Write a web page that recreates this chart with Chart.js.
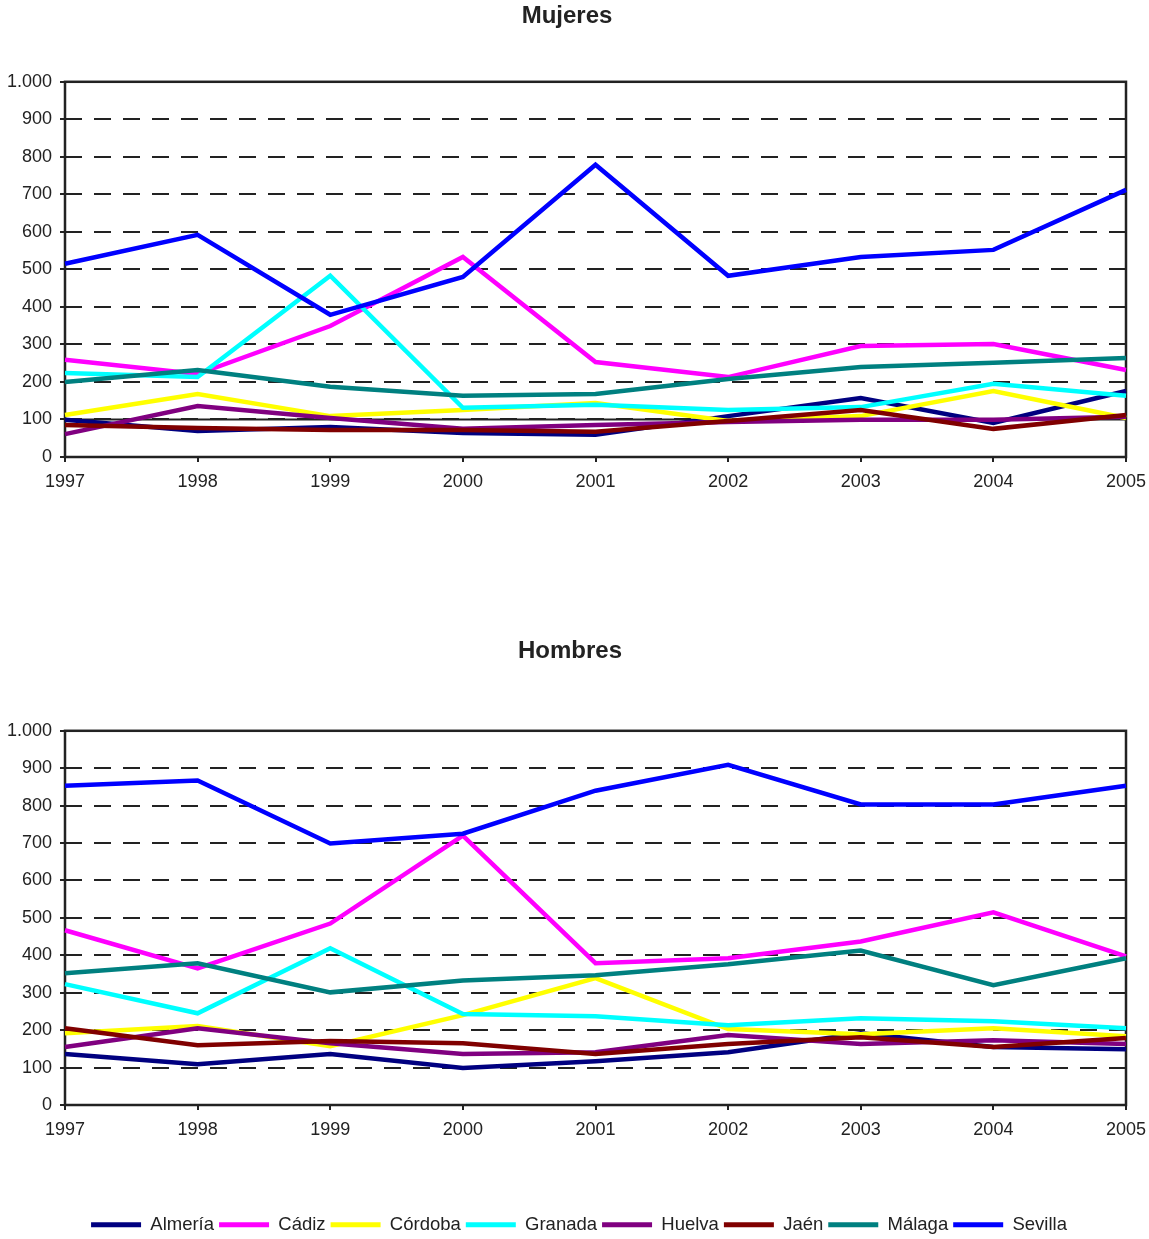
<!DOCTYPE html>
<html>
<head>
<meta charset="utf-8">
<script src="https://cdn.jsdelivr.net/npm/chart.js@4/dist/chart.umd.min.js"></script>
<style>
  html, body { margin: 0; padding: 0; background: #fff; overflow: hidden; }
  .box { position: absolute; left: 0; width: 1149px; }
  #boxM { top: 0; height: 500px; }
  #boxH { top: 635px; height: 609px; }
</style>
</head>
<body>
<div class="box" id="boxM"><canvas id="chartM"></canvas></div>
<div class="box" id="boxH"><canvas id="chartH"></canvas></div>
<script>
const years = ['1997', '1998', '1999', '2000', '2001', '2002', '2003', '2004', '2005'];
const provincias = ['Almería', 'Cádiz', 'Córdoba', 'Granada', 'Huelva', 'Jaén', 'Málaga', 'Sevilla'];
const yTicks = [0, 100, 200, 300, 400, 500, 600, 700, 800, 900, 1000];

// Mujeres
const almeriaM = [99, 69, 80, 64, 59, 109, 157, 91, 176];
const cadizM   = [259, 221, 349, 533, 253, 213, 296, 301, 232];
const cordobaM = [112, 168, 109, 125, 144, 96, 109, 176, 104];
const granadaM = [224, 213, 483, 131, 139, 125, 133, 195, 163];
const huelvaM  = [61, 136, 104, 75, 85, 93, 99, 99, 107];
const jaenM    = [85, 77, 72, 72, 67, 96, 125, 75, 112];
const malagaM  = [200, 232, 187, 163, 168, 208, 240, 251, 264];
const sevillaM = [515, 592, 379, 480, 779, 483, 533, 552, 712];

// Hombres
const almeriaH = [136, 109, 136, 99, 117, 141, 192, 155, 149];
const cadizH   = [467, 365, 485, 720, 379, 392, 437, 515, 397];
const cordobaH = [192, 211, 157, 240, 339, 203, 189, 205, 184];
const granadaH = [323, 245, 419, 243, 237, 213, 232, 224, 205];
const huelvaH  = [155, 205, 165, 136, 141, 187, 163, 173, 163];
const jaenH    = [205, 160, 171, 165, 136, 163, 181, 155, 179];
const malagaH  = [352, 379, 301, 333, 347, 376, 413, 320, 392];
const sevillaH = [853, 867, 699, 725, 840, 909, 803, 803, 853];

const colores = ['#000080', '#FF00FF', '#FFFF00', '#00FFFF', '#800080', '#800000', '#008080', '#0000FF'];
const FONT = '"Liberation Sans", Arial, Helvetica, sans-serif';
const INK = '#222';

// frame round the plot, solid grid lines where the original has them,
// and small horizontal nudges for title and legend
const framePlugin = {
    id: 'frame',
    afterLayout(chart, args, opts) {
        const t = chart.titleBlock, l = chart.legend;
        if (t && opts.titleShift) { t.left += opts.titleShift; t.right += opts.titleShift; }
        if (l && opts.legendShift) { l.left += opts.legendShift; l.right += opts.legendShift; }
    },
    beforeDatasetsDraw(chart, args, opts) {
        const { ctx, chartArea: a, scales } = chart;
        ctx.save();
        ctx.strokeStyle = INK;
        ctx.lineWidth = 2;
        (opts.solid || []).forEach(v => {
            const y = scales.y.getPixelForValue(v);
            ctx.beginPath();
            ctx.moveTo(a.left, y);
            ctx.lineTo(a.right, y);
            ctx.stroke();
        });
        ctx.lineWidth = 2.5;
        ctx.strokeRect(a.left, a.top, a.right - a.left, a.bottom - a.top);
        ctx.restore();
    }
};

function makeDatasets(series) {
    // later series are drawn on top, like the original
    return series.map((data, i) => ({
        label: provincias[i],
        data: data,
        borderColor: colores[i],
        backgroundColor: colores[i],
        borderWidth: 4.5,
        pointRadius: 0,
        tension: 0,
        order: series.length - i
    }));
}

function makeChart(id, title, series, cfg) {
    return new Chart(document.getElementById(id), {
        type: 'line',
        data: { labels: years, datasets: makeDatasets(series) },
        options: {
            responsive: true,
            maintainAspectRatio: false,
            animation: false,
            layout: { padding: { left: 0, right: 23, top: 0, bottom: 0 } },
            plugins: {
                title: {
                    display: true,
                    text: title,
                    color: INK,
                    font: { family: FONT, size: 24, weight: 'bold' },
                    padding: { top: 2, bottom: cfg.titleGap }
                },
                legend: {
                    display: cfg.legend,
                    position: 'bottom',
                    labels: {
                        color: INK,
                        font: { family: FONT, size: 18.5 },
                        boxWidth: 50,
                        boxHeight: 5,
                        padding: 5,
                        generateLabels(chart) {
                            const items = Chart.defaults.plugins.legend.labels.generateLabels(chart);
                            items.forEach(it => { it.lineWidth = 0; });
                            return items.sort((a, b) => a.datasetIndex - b.datasetIndex);
                        }
                    }
                },
                tooltip: { enabled: false },
                frame: { solid: cfg.solid, titleShift: cfg.titleShift, legendShift: cfg.legendShift }
            },
            scales: {
                x: {
                    offset: false,
                    afterFit(scale) {
                        scale.height = cfg.xHeight;
                        scale.paddingLeft = 0;
                        scale.paddingRight = 0;
                    },
                    grid: { drawOnChartArea: false, drawTicks: true, tickLength: 5, color: INK, lineWidth: 2 },
                    border: { display: false },
                    ticks: { color: INK, font: { family: FONT, size: 18 }, padding: 9, maxRotation: 0 }
                },
                y: {
                    min: 0,
                    max: 1000,
                    afterFit(scale) { scale.width = 65; },
                    afterBuildTicks(scale) { scale.ticks = yTicks.map(v => ({ value: v })); },
                    grid: { color: INK, lineWidth: 2, tickLength: 5 },
                    border: { display: false, dash: [17, 12] },
                    ticks: {
                        color: INK,
                        font: { family: FONT, size: 18 },
                        padding: 8,
                        callback: v => v >= 1000 ? '1.000' : String(v)
                    }
                }
            }
        },
        plugins: [framePlugin]
    });
}

makeChart('chartM', 'Mujeres',
    [almeriaM, cadizM, cordobaM, granadaM, huelvaM, jaenM, malagaM, sevillaM],
    { titleGap: 51, legend: false, xHeight: 43, solid: [100], titleShift: 4, legendShift: 0 });

makeChart('chartH', 'Hombres',
    [almeriaH, cadizH, cordobaH, granadaH, huelvaH, jaenH, malagaH, sevillaH],
    { titleGap: 65, legend: true, xHeight: 105.5, solid: [], titleShift: 7, legendShift: 16 });
</script>
</body>
</html>
